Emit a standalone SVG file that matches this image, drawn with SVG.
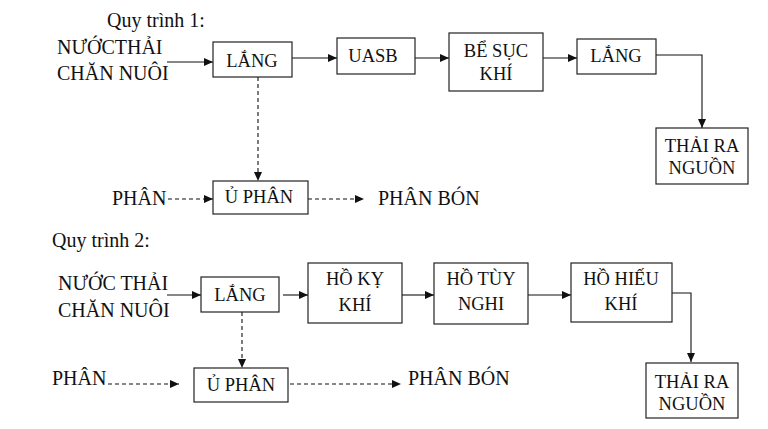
<svg xmlns="http://www.w3.org/2000/svg" width="768" height="429" viewBox="0 0 768 429">
<style>
text{font-family:"Liberation Serif","Times New Roman",serif;fill:#111}
.lbl{font-size:20px}
.box rect{fill:#fff;stroke:#222;stroke-width:1.2}
.box text{font-size:18.5px;text-anchor:middle}
.c{fill:none;stroke:#111;stroke-width:1.1}
.d{stroke-dasharray:4 3}
</style>
<defs>
<marker id="ah" markerUnits="userSpaceOnUse" markerWidth="10" markerHeight="10" refX="9" refY="4" orient="auto">
<path d="M0,0 L9,4 L0,8 Z" fill="#111"/>
</marker>
</defs>
<rect width="768" height="429" fill="#fff"/>

<text class="lbl" x="107" y="27">Quy trình 1:</text>
<text class="lbl" x="57" y="54">NƯỚCTHẢI</text>
<text class="lbl" x="57" y="80">CHĂN NUÔI</text>
<text class="lbl" x="112" y="205">PHÂN</text>
<text class="lbl" x="378" y="205">PHÂN BÓN</text>

<text class="lbl" x="52" y="247">Quy trình 2:</text>
<text class="lbl" x="58" y="290">NƯỚC THẢI</text>
<text class="lbl" x="58" y="317">CHĂN NUÔI</text>
<text class="lbl" x="52" y="385">PHÂN</text>
<text class="lbl" x="408" y="385">PHÂN BÓN</text>

<g id="connectors">
<path class="c" d="M167,62 H213" marker-end="url(#ah)"/>
<path class="c" d="M292,58 H337" marker-end="url(#ah)"/>
<path class="c" d="M415,58 H449" marker-end="url(#ah)"/>
<path class="c" d="M543,58 H577" marker-end="url(#ah)"/>
<path class="c" d="M656,55 H702 V128" marker-end="url(#ah)"/>
<path class="c d" d="M258,77 V181" marker-end="url(#ah)"/>
<path class="c d" d="M168,199 H213" marker-end="url(#ah)"/>
<path class="c d" d="M308,199 H364" marker-end="url(#ah)"/>

<path class="c" d="M167,295 H201" marker-end="url(#ah)"/>
<path class="c" d="M283,295 H308" marker-end="url(#ah)"/>
<path class="c" d="M402,295 H434" marker-end="url(#ah)"/>
<path class="c" d="M528,295 H571" marker-end="url(#ah)"/>
<path class="c" d="M672,293 H691 V362" marker-end="url(#ah)"/>
<path class="c d" d="M242,312 V368" marker-end="url(#ah)"/>
<path class="c d" d="M108,384 H179" marker-end="url(#ah)"/>
<path class="c d" d="M290,384 H401" marker-end="url(#ah)"/>
</g>

<g id="lang1" class="box"><rect x="213" y="42" width="79" height="35"/><text x="252" y="67">LẮNG</text></g>
<g id="uasb" class="box"><rect x="337" y="38" width="78" height="36"/><text x="373" y="62">UASB</text></g>
<g id="besuckhi" class="box"><rect x="449" y="33" width="94" height="58"/><text x="496" y="57">BỂ SỤC</text><text x="496" y="80">KHÍ</text></g>
<g id="lang1b" class="box"><rect x="577" y="39" width="79" height="35"/><text x="616" y="62">LẮNG</text></g>
<g id="thaira1" class="box"><rect x="656" y="128" width="92" height="56"/><text x="702" y="152">THẢI RA</text><text x="702" y="174">NGUỒN</text></g>
<g id="uphan1" class="box"><rect x="213" y="181" width="95" height="33"/><text x="259" y="203">Ủ PHÂN</text></g>

<g id="lang2" class="box"><rect x="201" y="277" width="78" height="35"/><text x="240" y="301">LẮNG</text></g>
<g id="hokykhi" class="box"><rect x="308" y="263" width="94" height="60"/><text x="355" y="285">HỒ KỴ</text><text x="355" y="311">KHÍ</text></g>
<g id="hotuynghi" class="box"><rect x="434" y="263" width="94" height="61"/><text x="481" y="285">HỒ TÙY</text><text x="481" y="310">NGHI</text></g>
<g id="hohieukhi" class="box"><rect x="571" y="263" width="101" height="59"/><text x="621" y="285">HỒ HIẾU</text><text x="621" y="310">KHÍ</text></g>
<g id="thaira2" class="box"><rect x="646" y="363" width="92" height="55"/><text x="692" y="388">THẢI RA</text><text x="692" y="410">NGUỒN</text></g>
<g id="uphan2" class="box"><rect x="194" y="368" width="94" height="34"/><text x="241" y="391">Ủ PHÂN</text></g>
</svg>
